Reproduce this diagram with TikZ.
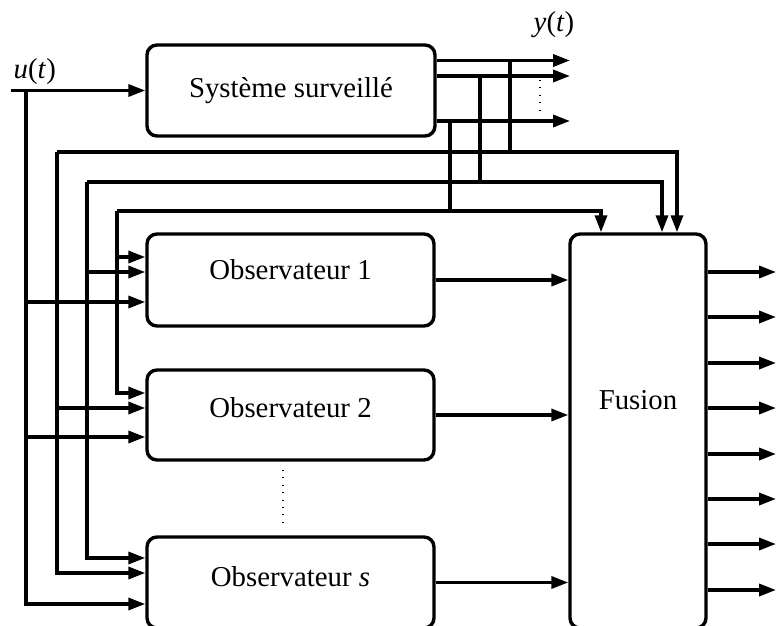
\documentclass[tikz,border=0pt]{standalone}
\usepackage{fontspec}
\setmainfont{Liberation Serif}
\usetikzlibrary{arrows.meta,calc}

\begin{document}
\begin{tikzpicture}[x=0.5pt,y=-0.5pt,line width=1.7pt,
	bloc/.style={draw,rounded corners=5pt,inner sep=0pt},
	fleche/.style={-{Triangle[length=8.5pt,width=6pt]}},
	pointilles/.style={line width=0.8pt,dash pattern=on 0.4pt off 3.3pt},
	every node/.append style={font=\fontsize{14.4}{17}\selectfont}]
	% Cadre
	\clip (0,0) rectangle (776,626);
	
	% Blocs
	\node[bloc,minimum width=144pt,minimum height=45.5pt] (sys) at (291,90.5) {Système surveillé};
	\node[bloc,minimum width=143.5pt,minimum height=46pt,
		label={[name=t1,yshift=5pt]center:Observateur 1}] (obs1) at (290.5,280) {};
	\node[bloc,minimum width=143.5pt,minimum height=45pt,
		label={[name=t2,yshift=3.5pt]center:Observateur 2}] (obs2) at (290.5,415) {};
	\node[bloc,minimum width=143.5pt,minimum height=45.5pt,
		label={[name=t3,yshift=3pt]center:Observateur \textit{s}}] (obss) at (290.5,582.5) {};
	\node[bloc,minimum width=68pt,minimum height=197pt,
		label={[name=tf,yshift=15.5pt]center:Fusion}] (fusion) at (638,431) {};
	
	% Étiquettes
	\node[anchor=base west,inner sep=0pt] (ul) at (12,79) {\textit{u}(\textit{t})};
	\node[anchor=base west,inner sep=0pt] (yl) at (532,32) {\textit{y}(\textit{t})};
	
	% Points de branchement
	\coordinate (u0) at (11,90.5);
	\coordinate (bu) at (26,90.5);
	\coordinate (b1) at (57,152);
	\coordinate (b2) at (87,182);
	\coordinate (b3) at (117,211);
	\coordinate (ya) at (570,60.5);
	\coordinate (yb) at (570,76);
	\coordinate (yc) at (570,121);
	\coordinate (ta) at (510,60.5);
	\coordinate (tb) at (480,76);
	\coordinate (tc) at (450,121);
	\coordinate (f1) at ($(fusion.north)+(39,0)$);
	\coordinate (f2) at ($(fusion.north)+(24,0)$);
	\coordinate (f3) at ($(fusion.north)+(-37,0)$);
	\coordinate (e11) at ($(obs1.west)+(0,-23)$);
	\coordinate (e12) at ($(obs1.west)+(0,-8)$);
	\coordinate (e13) at ($(obs1.west)+(0,22)$);
	\coordinate (e21) at ($(obs2.west)+(0,-22)$);
	\coordinate (e22) at ($(obs2.west)+(0,-7)$);
	\coordinate (e23) at ($(obs2.west)+(0,22)$);
	\coordinate (es1) at ($(obss.west)+(0,-24.5)$);
	\coordinate (es2) at ($(obss.west)+(0,-9.5)$);
	\coordinate (es3) at ($(obss.west)+(0,21.5)$);
	
	% Entrée u(t)
	\draw[fleche] (u0) -- (sys.west);
	\draw[fleche] (bu) |- (es3);
	\draw[fleche] (bu |- e13) -- (e13);
	\draw[fleche] (bu |- e23) -- (e23);
	
	% Sorties y(t)
	\draw[fleche] (sys.east |- ya) -- (ya);
	\draw[fleche] (sys.east |- yb) -- (yb);
	\draw[fleche] (sys.east |- yc) -- (yc);
	\draw[pointilles] (540,80) -- (540,116);
	
	% Retours vers les observateurs et la fusion
	\draw (ta) -- (ta |- b1);
	\draw (tb) -- (tb |- b2);
	\draw (tc) -- (tc |- b3);
	\draw[fleche] (b1) -| (f1);
	\draw[fleche] (b2) -| (f2);
	\draw[fleche] (b3) -| (f3);
	\draw[fleche] (b1) |- (es2);
	\draw[fleche] (b2) |- (es1);
	\draw[fleche] (b3) |- (e21);
	\draw[fleche] (b1 |- e22) -- (e22);
	\draw[fleche] (b2 |- e12) -- (e12);
	\draw[fleche] (b3 |- e11) -- (e11);
	
	% Observateurs vers fusion
	\draw[fleche] (obs1.east) -- (obs1.east -| fusion.west);
	\draw[fleche] (obs2.east) -- (obs2.east -| fusion.west);
	\draw[fleche] (obss.east) -- (obss.east -| fusion.west);
	\draw[pointilles] (283,470) -- (283,524);
	
	% Sorties de la fusion
	\foreach \y [count=\i] in {272,317,363,408,454,499,544,590}{
		\coordinate (s\i) at (776,\y);
		\draw[fleche] (fusion.east |- s\i) -- (s\i);
	}
\end{tikzpicture}
\end{document}
